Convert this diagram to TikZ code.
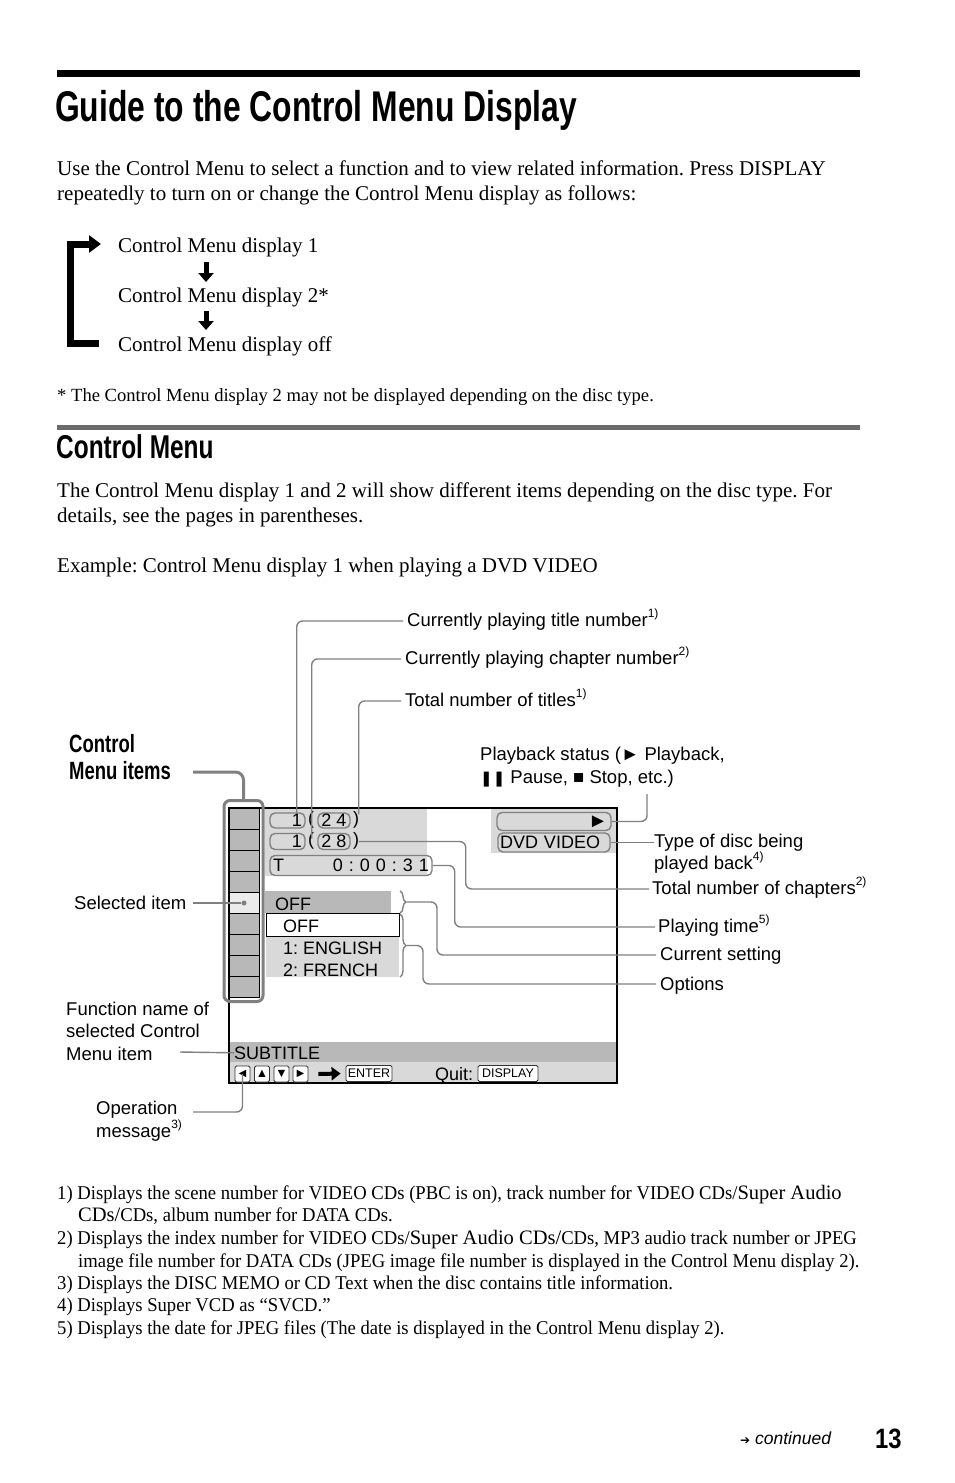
\documentclass[tikz,border=0pt]{standalone}
\usepackage{fontspec}
\setmainfont{Liberation Serif}
\setsansfont{Liberation Sans}
\newfontfamily\headfont[FakeStretch=0.74]{Liberation Sans}
\newfontfamily\numfont[FakeStretch=0.85]{Liberation Sans}
\newfontfamily\notefont[FakeStretch=0.956]{Liberation Serif}
\newfontfamily\symfont{DejaVu Sans}
\usetikzlibrary{arrows.meta,decorations.pathreplacing}
\definecolor{leadgray}{gray}{0.5}
\definecolor{panelgray}{gray}{0.85}
\definecolor{cellgray}{gray}{0.72}
\definecolor{selgray}{gray}{0.92}
\definecolor{rulegray}{gray}{0.42}
\newcommand\noteref[1]{\raisebox{0.45em}{\fontsize{12}{12}\selectfont #1}}
\newcommand\bigrm[1]{{\rmfamily\fontsize{20.5}{22}\selectfont #1}}
\frenchspacing
\tikzset{
  body/.style={anchor=base west, inner sep=0pt, font=\fontsize{21}{25}\selectfont},
  note/.style={anchor=base west, inner sep=0pt, font=\notefont\fontsize{19.5}{22}\selectfont},
  lbl/.style={anchor=base west, inner sep=0pt, font=\sffamily\fontsize{18.5}{23}\selectfont},
  scr/.style={anchor=base west, inner sep=0pt, font=\sffamily\fontsize{18}{22}\selectfont},
  lead/.style={draw=leadgray, line width=1.4pt, rounded corners=6pt},
  bracket/.style={draw=leadgray, line width=1.4pt, decorate, decoration={brace, amplitude=6pt}},
  capsule/.style={draw=leadgray, line width=1.4pt, rounded corners=5pt, inner xsep=3pt, inner ysep=0pt, font=\sffamily\fontsize{18}{22}\selectfont},
  btn/.style={draw=black!80, line width=0.8pt, rounded corners=1.5pt, fill=white, inner sep=0pt, font=\sffamily\fontsize{12.5}{14}\selectfont},
  cell/.style={draw=black, line width=1pt, fill=cellgray},
  bigarrow/.style={line width=5pt, -{Triangle[length=9pt,width=15pt]}},
}
\begin{document}
\begin{tikzpicture}[x=1pt,y=-1pt]
\useasboundingbox (0,0) rectangle (954,1483);

% page head
\fill[black] (57,70) rectangle (860,77);
\node[anchor=base west, inner sep=0pt, font=\headfont\bfseries\fontsize{43}{48}\selectfont] (title) at (55,121) {Guide to the Control Menu Display};
\node[body] (introa) at (57,175) {Use the Control Menu to select a function and to view related information. Press DISPLAY};
\node[body] (introb) at (57,200) {repeatedly to turn on or change the Control Menu display as follows:};

% display cycle
\node[body] (dispa) at (118,252) {Control Menu display 1};
\node[body] (dispb) at (118,302) {Control Menu display 2*};
\node[body] (dispc) at (118,351) {Control Menu display off};
\draw[bigarrow] ([xshift=88pt,yshift=-10pt]dispa.base west) -- ([xshift=88pt,yshift=20pt]dispb.base west);
\draw[bigarrow] ([xshift=88pt,yshift=-9pt]dispb.base west) -- ([xshift=88pt,yshift=21pt]dispc.base west);
\draw[line width=7pt, -{Triangle[length=12pt,width=17pt]}] ([xshift=-19pt,yshift=7.5pt]dispc.base west) -| ([xshift=-48pt,yshift=8pt]dispa.base west) -- ([xshift=-17pt,yshift=8pt]dispa.base west);
\node[anchor=base west, inner sep=0pt, font=\fontsize{18.6}{20}\selectfont] (star) at (57,401) {* The Control Menu display 2 may not be displayed depending on the disc type.};

% section
\fill[rulegray] (57,425) rectangle (860,430);
\node[anchor=base west, inner sep=0pt, font=\headfont\bfseries\fontsize{33}{38}\selectfont] (sechead) at (56,458) {Control Menu};
\node[body] (paraa) at (57,497) {The Control Menu display 1 and 2 will show different items depending on the disc type. For};
\node[body] (parab) at (57,522) {details, see the pages in parentheses.};
\node[body] (example) at (57,572) {Example: Control Menu display 1 when playing a DVD VIDEO};

% screen
\fill[panelgray] (265,808) rectangle (427,876);
\fill[panelgray] (491,808) rectangle (617,853);
\fill[cellgray] (265,891) rectangle (391,913);
\fill[panelgray] (266,936) rectangle (399,977);
\fill[cellgray] (229,1042) rectangle (617,1062);
\fill[panelgray] (229,1062) rectangle (617,1083);
\draw[black, line width=2pt] (229,808) rectangle (617,1083);

\node[capsule, text width=29pt, align=right, minimum height=15pt] (tnum) at (287.5,820.5) {1};
\node[scr, anchor=center] (tpl) at (311,820) {(};
\node[capsule, minimum width=32pt, minimum height=15pt] (ttot) at (334,820.5) {2 4};
\node[scr, anchor=center] (tpr) at (356,820) {)};
\node[capsule, text width=29pt, align=right, minimum height=16pt] (cnum) at (287.5,841.5) {1};
\node[scr, anchor=center] (cpl) at (311,841) {(};
\node[capsule, minimum width=32pt, minimum height=16pt] (ctot) at (334,841.5) {2 8};
\node[scr, anchor=center] (cpr) at (356,841) {)};
\node[capsule, text width=156pt, align=left, minimum height=20pt] (tbox) at (351,865.5) {T\hfill 0 : 0 0 : 3 1};

\node[capsule, text width=108pt, align=right, minimum height=18pt, font=\sffamily\fontsize{20}{20}\selectfont] (play) at (554,821.5) {►};
\node[capsule, text width=108pt, align=left, minimum height=19pt, inner xsep=2pt] (dvd) at (554,842.5) {DVD VIDEO};

\node[scr] (curval) at (275,910) {OFF};
\node[draw=black, fill=white, line width=1pt, minimum width=133pt, minimum height=23pt, anchor=north west, inner sep=0pt] (optbox) at (266,913) {};
\node[scr] (opta) at (283,932) {OFF};
\node[scr] (optb) at (283,954) {1: ENGLISH};
\node[scr] (optc) at (283,976) {2: FRENCH};
\draw[bracket] (400,891) -- (400,913);
\draw[bracket] (400,914) -- (400,977);
\coordinate (csettip) at (407,902);
\coordinate (optstip) at (407,945.5);

\node[scr] (subtitle) at (234,1059) {SUBTITLE};
\node[btn, minimum width=15pt, minimum height=16pt] (kleft) at (242.5,1074) {◄};
\node[btn, minimum width=15pt, minimum height=16pt] (kup) at (262,1074) {▲};
\node[btn, minimum width=15pt, minimum height=16pt] (kdown) at (281.5,1074) {▼};
\node[btn, minimum width=15pt, minimum height=16pt] (kright) at (300.5,1074) {►};
\node[btn, minimum width=46pt, minimum height=16pt] (enter) at (369,1073.5) {ENTER};
\draw[line width=4pt, -{Triangle[length=9pt,width=13pt]}] ([xshift=10pt]kright.east) -- ([xshift=-5pt]enter.west);
\node[scr] (quit) at (435,1080) {Quit:};
\node[btn, minimum width=60pt, minimum height=16pt] (dispkey) at (508,1073.5) {DISPLAY};

% menu item column
\foreach \i in {0,...,8}{
  \draw[cell] (229,{808+21.1*\i}) rectangle (259,{808+21.1*(\i+1)});
}
\draw[cell, fill=selgray] (229,{808+21.1*4}) rectangle (259,{808+21.1*5});
\node[circle, fill=leadgray, inner sep=0pt, minimum size=5pt] (seldot) at (244,903) {};
\node[draw=leadgray, line width=3pt, rounded corners=6pt, minimum width=39pt, minimum height=201pt] (colframe) at (243.5,901) {};

% labels
\node[anchor=base west, inner sep=0pt, font=\headfont\bfseries\fontsize{25}{28}\selectfont] (cmia) at (69,752) {Control};
\node[anchor=base west, inner sep=0pt, font=\headfont\bfseries\fontsize{25}{28}\selectfont] (cmib) at (69,779) {Menu items};
\node[lbl] (curtitle) at (407,626) {Currently playing title number\noteref{1)}};
\node[lbl] (curchap) at (405,664) {Currently playing chapter number\noteref{2)}};
\node[lbl] (tottitle) at (405,706) {Total number of titles\noteref{1)}};
\node[lbl] (pbstata) at (480,760) {Playback status (► Playback,};
\node[lbl] (pbstatb) at (480,783) {{\symfont\fontsize{15}{15}\selectfont ❚❚} Pause, ■ Stop, etc.)};
\node[lbl] (disctypea) at (654,847) {Type of disc being};
\node[lbl] (disctypeb) at (654,869) {played back\noteref{4)}};
\node[lbl] (totchap) at (652,894) {Total number of chapters\noteref{2)}};
\node[lbl] (ptime) at (658,932) {Playing time\noteref{5)}};
\node[lbl] (curset) at (660,960) {Current setting};
\node[lbl] (opts) at (660,990) {Options};
\node[lbl] (selitem) at (74,909) {Selected item};
\node[lbl] (fnamea) at (66,1015) {Function name of};
\node[lbl] (fnameb) at (66,1037) {selected Control};
\node[lbl] (fnamec) at (66,1060) {Menu item};
\node[lbl] (opmsga) at (96,1114) {Operation};
\node[lbl] (opmsgb) at (96,1137) {message\noteref{3)}};

% leaders
\draw[lead] ([xshift=-9pt]tnum.north east) |- ([xshift=-4pt,yshift=5pt]curtitle.base west);
\draw[lead] ([xshift=6pt,yshift=3pt]cnum.east) |- ([xshift=-4pt,yshift=5pt]curchap.base west);
\draw[lead] ([xshift=8pt,yshift=-2pt]ttot.north east) |- ([xshift=-4pt,yshift=5pt]tottitle.base west);
\draw[lead] (play.east) -| ([xshift=167pt,yshift=-11pt]pbstatb.base west);
\draw[lead] (dvd.east) -- (dvd.east -| disctypea.west);
\draw[lead] ([xshift=8pt]ctot.east) -- ++(107,0) |- ([xshift=-3pt,yshift=5pt]totchap.base west);
\draw[lead] (tbox.east) -- ++(22,0) |- ([xshift=-3pt,yshift=5pt]ptime.base west);
\draw[lead] (csettip) -- ++(30,0) |- ([xshift=-4pt,yshift=5pt]curset.base west);
\draw[lead] (optstip) -- ++(16,0) |- ([xshift=-4pt,yshift=6pt]opts.base west);
\draw[lead] ([xshift=119pt,yshift=6pt]selitem.base west) -- (seldot);
\draw[lead] ([xshift=114pt,yshift=8pt]fnamec.base west) -- (subtitle.west);
\draw[lead] ([xshift=97pt,yshift=2pt]opmsga.base west) -| (kleft.center);
\draw[draw=leadgray, line width=3pt, rounded corners=8pt] ([xshift=124pt,yshift=7pt]cmib.base west) -| (colframe.north);

% footnotes
\node[note] (fna) at (57,1199) {1) Displays the scene number for VIDEO CDs (PBC is on), track number for VIDEO CDs/\bigrm{Super Audio}};
\node[note] (fnb) at (78,1221) {\bigrm{CDs/}CDs, album number for DATA CDs.};
\node[note] (fnc) at (57,1244) {2) Displays the index number for VIDEO CDs/\bigrm{Super Audio CDs/}CDs, MP3 audio track number or JPEG};
\node[note] (fnd) at (78,1267) {image file number for DATA CDs (JPEG image file number is displayed in the Control Menu display 2).};
\node[note] (fne) at (57,1289) {3) Displays the DISC MEMO or CD Text when the disc contains title information.};
\node[note] (fnf) at (57,1311) {4) Displays Super VCD as “SVCD.”};
\node[note] (fng) at (57,1334) {5) Displays the date for JPEG files (The date is displayed in the Control Menu display 2).};

% foot
\node[anchor=base west, inner sep=0pt, font=\sffamily\fontsize{17.5}{20}\selectfont] (contd) at (740,1444) {{\symfont\fontsize{12}{12}\selectfont ➔}\ \textit{continued}};
\node[anchor=base west, inner sep=0pt, font=\numfont\bfseries\fontsize{28}{30}\selectfont] (pagenum) at (875,1448) {13};
\end{tikzpicture}
\end{document}
